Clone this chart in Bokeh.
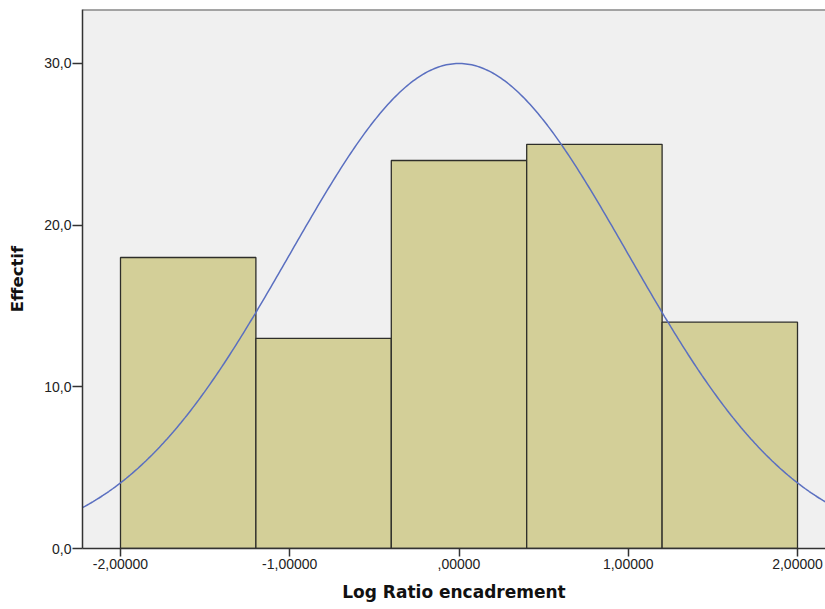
import numpy as np
from bokeh.plotting import figure
from bokeh.models import CustomJSTickFormatter, FixedTicker, Range1d, Span
from bokeh.embed import file_html
from bokeh.resources import INLINE

# histogram bins and counts
bin_left = [-2.0, -1.2, -0.4, 0.4, 1.2]
bin_right = [-1.2, -0.4, 0.4, 1.2, 2.0]
counts = [18, 13, 24, 25, 14]

# fitted normal curve parameters (as shown by the curve)
curve_mean = 0.0
curve_sd = 1.0

x_ticks = [-2, -1, 0, 1, 2]
y_ticks = [0, 10, 20, 30]

p = figure(
    width=825,
    height=609,
    x_range=Range1d(-2.2245, 2.1654),
    y_range=Range1d(0, 33.34),
    output_backend="svg",
    toolbar_location=None,
    tools="",
    min_border_left=82,
    min_border_top=9,
    min_border_right=0,
    min_border_bottom=61,
)
p.background_fill_color = "#f0f0f0"
p.border_fill_color = "white"
p.outline_line_color = None
p.grid.visible = False

p.quad(left=bin_left, right=bin_right, bottom=0, top=counts,
       fill_color="#d3cf98", line_color="#2e2e2a", line_width=1.3)

n = sum(counts)
bw = bin_right[0] - bin_left[0]
xs = np.linspace(-2.3, 2.3, 400)
ys = n * bw * np.exp(-0.5 * ((xs - curve_mean) / curve_sd) ** 2) / (curve_sd * np.sqrt(2 * np.pi))
p.line(xs, ys, line_color="#5a6fc0", line_width=1.5)

p.add_layout(Span(location=33.34, dimension="width", line_color="#555555", line_width=2))

p.xaxis.ticker = FixedTicker(ticks=x_ticks)
p.yaxis.ticker = FixedTicker(ticks=y_ticks)
p.xaxis.formatter = CustomJSTickFormatter(code="""
    let s = Math.abs(tick).toFixed(5).replace('.', ',');
    if (s.startsWith('0,')) s = s.slice(1);
    return (tick < 0 ? '-' : '') + s;
""")
p.yaxis.formatter = CustomJSTickFormatter(code="return tick.toFixed(1).replace('.', ',');")

for ax in (p.xaxis, p.yaxis):
    ax.axis_line_color = "#333333"
    ax.axis_line_width = 1.5
    ax.major_tick_line_color = "#333333"
    ax.major_tick_line_width = 1.5
    ax.major_tick_in = 0
    ax.minor_tick_line_color = None
    ax.major_label_text_font = "Liberation Sans"
    ax.major_label_text_font_size = "14px"
    ax.major_label_text_color = "#222222"
    ax.axis_label_text_font = "DejaVu Sans"
    ax.axis_label_text_font_style = "bold"
    ax.axis_label_text_color = "#111111"

p.xaxis.axis_label = "Log Ratio encadrement"
p.yaxis.axis_label = "Effectif"
p.xaxis.axis_label_text_font_size = "17px"
p.yaxis.axis_label_text_font_size = "16.5px"
p.xaxis.major_tick_out = 8
p.yaxis.major_tick_out = 10
p.xaxis.major_label_standoff = 2
p.yaxis.major_label_standoff = 1
p.xaxis.axis_label_standoff = 10
p.yaxis.axis_label_standoff = 14

open("out.html", "w").write(file_html(p, INLINE))
